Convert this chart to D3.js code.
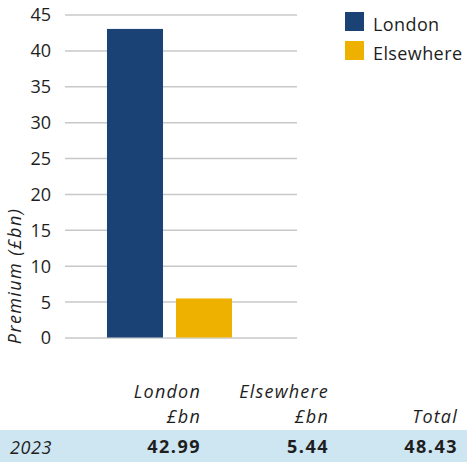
<!DOCTYPE html>
<html>
<head>
<meta charset="utf-8">
<script src="https://cdn.jsdelivr.net/npm/d3@7"></script>
<style>
  html, body { margin: 0; padding: 0; background: #fff; }
  svg { display: block; font-family: "Open Sans", "Noto Sans", sans-serif; }
</style>
</head>
<body>
<svg id="chart" width="467" height="462"></svg>
<script>
// Premium written, London vs elsewhere (£bn)
const categories = ["London", "Elsewhere"];
const values = [42.99, 5.44];
const colors = ["#1a4275", "#efb100"];
const yTicks = [0, 5, 10, 15, 20, 25, 30, 35, 40, 45];
const tableYear = "2023";
const tableHeaders = [["London", "£bn"], ["Elsewhere", "£bn"], ["Total"]];
const tableValues = ["42.99", "5.44", "48.43"];

const svg = d3.select("#chart");
const plot = { left: 65, right: 297, top: 14.5, bottom: 337.5 };
const ink = "#1e1e1e";

const y = d3.scaleLinear().domain([0, 45]).range([plot.bottom, plot.top]);
const x = d3.scaleBand().domain(categories).range([100.5, 238.5])
  .paddingInner(0.188).paddingOuter(0.094);

// Gridlines and tick labels
const yAxis = d3.axisLeft(y).tickValues(yTicks).tickSize(-(plot.right - plot.left)).tickPadding(14);
const gy = svg.append("g").attr("transform", `translate(${plot.left},0)`).call(yAxis);
gy.select(".domain").remove();
gy.selectAll(".tick line").attr("stroke", "#c8c8c8").attr("stroke-width", 1.5);
gy.selectAll(".tick text").attr("fill", ink).style("font-size", "18px")
  .style("font-family", "'Open Sans', sans-serif").attr("dy", "0.36em");

// Axis title
svg.append("text")
  .attr("transform", "translate(21,276) rotate(-90)")
  .attr("text-anchor", "middle")
  .style("font-style", "italic")
  .style("font-size", "18px")
  .style("letter-spacing", "1.4px")
  .attr("fill", ink)
  .text("Premium (£bn)");

// Bars
svg.append("g").selectAll("rect")
  .data(categories)
  .join("rect")
  .attr("x", d => x(d))
  .attr("width", x.bandwidth())
  .attr("y", (d, i) => y(values[i]))
  .attr("height", (d, i) => y(0) - y(values[i]))
  .attr("fill", (d, i) => colors[i]);

// Legend
const legend = svg.append("g").attr("transform", "translate(345,12)");
categories.forEach((c, i) => {
  const g = legend.append("g").attr("transform", `translate(0,${i * 29})`);
  g.append("rect").attr("width", 19).attr("height", 19).attr("fill", colors[i]);
  g.append("text").attr("x", 28).attr("y", 19).style("font-size", "18px")
    .style("letter-spacing", "0.4px").attr("fill", ink).text(c);
});

// Summary table
const colRight = [201, 329, 458];
svg.append("rect").attr("x", 0).attr("y", 430).attr("width", 467).attr("height", 32).attr("fill", "#cde6f1");
tableHeaders.forEach((lines, i) => {
  const baseline = lines.length === 2 ? [398, 423] : [423];
  lines.forEach((t, j) => {
    svg.append("text")
      .attr("x", colRight[i]).attr("y", baseline[j])
      .attr("text-anchor", "end")
      .style("font-style", "italic").style("font-size", "18px")
      .style("letter-spacing", "1.2px")
      .attr("fill", ink).text(t);
  });
});
svg.append("text").attr("x", 10).attr("y", 454)
  .style("font-style", "italic").style("font-size", "18px").style("letter-spacing", "0.6px")
  .attr("fill", ink).text(tableYear);
tableValues.forEach((v, i) => {
  svg.append("text").attr("x", colRight[i]).attr("y", 453)
    .attr("text-anchor", "end").style("font-weight", "bold").style("font-size", "18px")
    .style("letter-spacing", "1.5px")
    .attr("fill", ink).text(v);
});
</script>
</body>
</html>
